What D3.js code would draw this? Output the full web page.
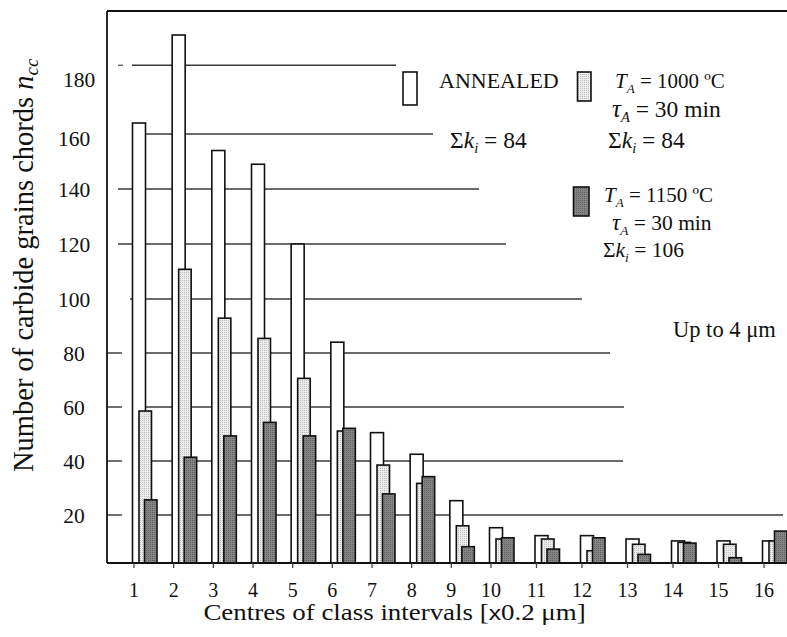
<!DOCTYPE html>
<html><head><meta charset="utf-8">
<script src="https://cdn.jsdelivr.net/npm/d3@7"></script>
<style>body{margin:0;background:#fff}</style>
</head><body>
<svg id="chart" width="787" height="637"></svg>
<script>
// ---- data ----
const categories = [1,2,3,4,5,6,7,8,9,10,11,12,13,14,15,16];
const annealed = [164,196,154,149,120,84,50.5,42.5,25.3,14.7,11.4,11.4,10,9.2,9.2,9.2];
const ta1000   = [58.5,110.8,92.9,85.4,70.6,51.1,38.5,31.7,15.5,10,10,5.1,7.8,8.6,7.8,9.2];
const ta1150   = [25.6,41.4,49.3,54.3,49.3,52.1,27.8,34.2,6.8,10.5,5.8,10.5,3.6,8.3,2.2,13.3];
const yTickValues = [20,40,60,80,100,120,140,160,180];
const gridValues  = [20,40,60,80,100,120,140,160,185];
const xTitle = "Centres of class intervals [";
const yTitle = "Number of carbide grains chords";

// ---- styles / layout ----
const gridRightEnds = [783,623,624,610,582,506,479,433,396];
const gridLeftStarts = [132,132,132,132,130,118,118,132,132];
const font = "'Liberation Serif','Times New Roman',serif";

const svg = d3.select("#chart");
const defs = svg.append("defs");
function stipple(id, bg, dot){
  const p = defs.append("pattern").attr("id", id).attr("patternUnits","userSpaceOnUse")
    .attr("width",2).attr("height",2);
  p.append("rect").attr("width",2).attr("height",2).attr("fill",bg);
  p.append("rect").attr("width",1).attr("height",1).attr("fill",dot);
}
stipple("pLight", "#ececec", "#bdbdbd");
stipple("pDark", "#858585", "#5f5f5f");

const x = d3.scaleLinear().domain([1,10,16]).range([134,491,764]);
const y = d3.scaleLinear().domain([0,20,100,160]).range([563,515,299,134]);
const axisX = 107, topY = 11, baseY = 563;

// gridlines
svg.append("g").selectAll("line").data(gridValues).join("line")
  .attr("x1",(d,i)=>gridLeftStarts[i]).attr("x2",(d,i)=>gridRightEnds[i])
  .attr("y1",d=>y(d)).attr("y2",d=>y(d))
  .attr("stroke","#3a3a3a").attr("stroke-width",1.3);
svg.append("line").attr("x1",118).attr("x2",123).attr("y1",y(185)).attr("y2",y(185))
  .attr("stroke","#555").attr("stroke-width",1.3);

// y ticks (only low ones drawn in original)
svg.append("g").selectAll("line").data(yTickValues.filter(v=>v<=80)).join("line")
  .attr("x1",axisX).attr("x2",axisX+15).attr("y1",d=>y(d)).attr("y2",d=>y(d))
  .attr("stroke","#222").attr("stroke-width",1.3);

// y tick labels
svg.append("g").selectAll("text").data(yTickValues).join("text")
  .attr("x",d=> d===180 ? 79 : 74).attr("y",d=> d===160 ? y(d)+4 : y(d))
  .attr("dy","0.35em").attr("text-anchor","middle")
  .attr("font-family",font).attr("font-size",21.5).attr("fill","#111")
  .text(d=>d);

// bars
const series = [
  {vals: annealed, fill:"#fff", off:-1.5, w:13},
  {vals: ta1000, fill:"url(#pLight)", off:5, w:12.5},
  {vals: ta1150, fill:"url(#pDark)", off:10.5, w:12.5}
];
series.forEach(s=>{
  svg.append("g").selectAll("rect").data(categories).join("rect")
    .attr("x",(c)=>x(c)+s.off).attr("width",s.w)
    .attr("y",(c,i)=>y(s.vals[i])).attr("height",(c,i)=>baseY - y(s.vals[i]))
    .attr("fill",s.fill).attr("stroke","#111").attr("stroke-width",1.6);
});

// axes frame
svg.append("line").attr("x1",axisX).attr("x2",axisX).attr("y1",topY).attr("y2",baseY)
  .attr("stroke","#111").attr("stroke-width",1.8);
svg.append("line").attr("x1",axisX).attr("x2",787).attr("y1",topY).attr("y2",topY)
  .attr("stroke","#111").attr("stroke-width",1.8);
svg.append("line").attr("x1",axisX).attr("x2",786).attr("y1",baseY).attr("y2",baseY)
  .attr("stroke","#111").attr("stroke-width",1.8);
// x ticks
svg.append("g").selectAll("line").data(categories).join("line")
  .attr("x1",c=>x(c)).attr("x2",c=>x(c)).attr("y1",baseY).attr("y2",baseY+5)
  .attr("stroke","#444").attr("stroke-width",1.3);
svg.append("g").selectAll("text").data(categories).join("text")
  .attr("x",c=>x(c)).attr("y",597).attr("text-anchor","middle")
  .attr("font-family",font).attr("font-size",20).attr("fill","#111").text(c=>c);

// axis titles
const xt = svg.append("text").attr("transform","translate(394.5,620) scale(1.17,1)")
  .attr("text-anchor","middle")
  .attr("font-family",font).attr("font-size",23).attr("fill","#111");
xt.append("tspan").text(xTitle);
xt.append("tspan").attr("font-family","'Liberation Sans',Arial,sans-serif").attr("font-size",21).text("x");
xt.append("tspan").text("0.2 μm]");

const yt = svg.append("text").attr("transform","translate(33,472) rotate(-90)")
  .attr("font-family",font).attr("font-size",28.5).attr("fill","#111");
yt.append("tspan").text(yTitle + "  ");
yt.append("tspan").attr("font-style","italic").text("n");
yt.append("tspan").attr("font-style","italic").attr("font-size",19).attr("dy",5).text("cc");

// ---- legend ----
function rich(xp, yp, segs, size){
  const t = svg.append("text").attr("x",xp).attr("y",yp)
    .attr("font-family",font).attr("font-size",size).attr("fill","#111");
  let shifted = false;
  segs.forEach(s=>{
    const sp = t.append("tspan").text(s.t);
    if (s.it) sp.attr("font-style","italic");
    if (s.size) sp.attr("font-size", s.size);
    if (s.sub && !shifted){ sp.attr("dy",5).attr("font-size",size*0.62); shifted=true; }
    else if (!s.sub && shifted){ sp.attr("dy",-5); shifted=false; }
  });
  return t;
}
const legendBoxes = [
  {x:403, y:72, w:14, h:33, fill:"#fff"},
  {x:577.5, y:72, w:13.5, h:29, fill:"url(#pLight)"},
  {x:573.5, y:187, w:15.5, h:29, fill:"url(#pDark)"}
];
svg.append("g").selectAll("rect").data(legendBoxes).join("rect")
  .attr("x",d=>d.x).attr("y",d=>d.y).attr("width",d=>d.w).attr("height",d=>d.h)
  .attr("fill",d=>d.fill).attr("stroke","#111").attr("stroke-width",1.6);

rich(439, 88, [{t:"ANNEALED"}], 22);
rich(450, 148, [{t:"Σ"},{t:"k",it:1},{t:"i",it:1,sub:1},{t:" = 84"}], 23.5);
rich(615, 88, [{t:"T",it:1},{t:"A",it:1,sub:1},{t:" = 1000 ºC"}], 21);
rich(612, 117, [{t:"τ",it:1,size:25},{t:"A",it:1,sub:1},{t:" = 30 min"}], 23.5);
rich(608, 148, [{t:"Σ"},{t:"k",it:1},{t:"i",it:1,sub:1},{t:" = 84"}], 23.5);
rich(604, 202, [{t:"T",it:1},{t:"A",it:1,sub:1},{t:" = 1150 ºC"}], 21);
rich(612, 230, [{t:"τ",it:1,size:23},{t:"A",it:1,sub:1},{t:" = 30 min"}], 21.5);
rich(603, 257, [{t:"Σ"},{t:"k",it:1},{t:"i",it:1,sub:1},{t:" = 106"}], 21.5);
rich(673, 337, [{t:"Up to 4 μm"}], 22.5);
</script>
</body></html>
